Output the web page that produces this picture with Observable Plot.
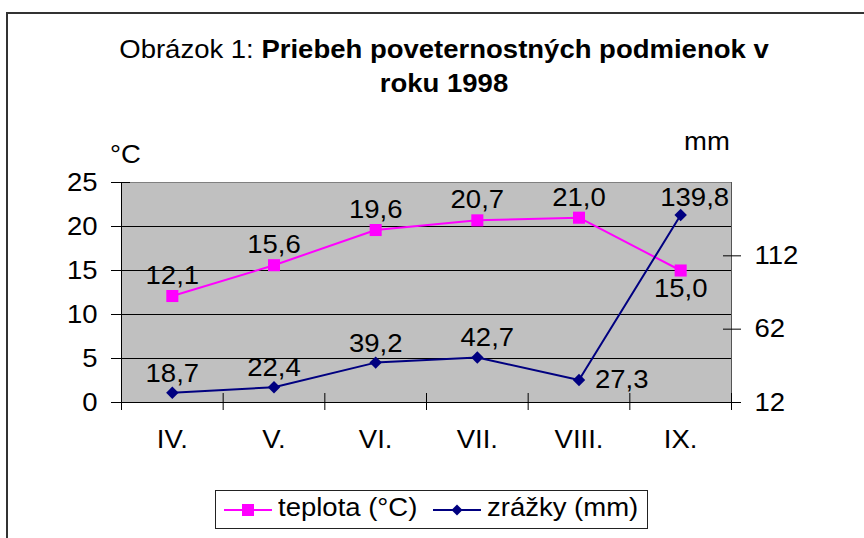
<!DOCTYPE html>
<html>
<head>
<meta charset="utf-8">
<script src="https://cdn.jsdelivr.net/npm/d3@7"></script>
<script src="https://cdn.jsdelivr.net/npm/@observablehq/plot@0.6"></script>
<style>
html, body { margin: 0; padding: 0; background: #fff; overflow: hidden; width: 864px; height: 538px; }
body { position: relative; font-family: "Liberation Sans", Arial, sans-serif; color: #000; }
#frame { position: absolute; left: 6px; top: 12px; width: 900px; height: 600px; border: 2px solid #333; box-sizing: border-box; }
#chart { position: absolute; left: 0; top: 0; }
#title { position: absolute; left: 0; top: 32px; width: 888px; text-align: center; font-size: 25px; line-height: 34px; transform: scaleX(1.1); transform-origin: 444px 0; }
.lab { position: absolute; font-size: 25px; line-height: 25px; white-space: nowrap; transform: scaleX(1.1); transform-origin: 0 0; }
#legend { position: absolute; left: 215px; top: 490px; width: 433px; height: 39px; border: 1px solid #222; box-sizing: border-box; background: #fff; }
#legend svg { position: absolute; top: 0; }
</style>
</head>
<body>
<div id="frame"></div>
<div id="chart"></div>
<div id="title">Obrázok 1: <b>Priebeh poveternostných podmienok v</b><br><b>roku 1998</b></div>
<div class="lab" style="left:110px; top:142px;">°C</div>
<div class="lab" style="left:684px; top:129px;">mm</div>
<div id="legend"></div>
<script>
// ---- data ----
const months = ["IV.", "V.", "VI.", "VII.", "VIII.", "IX."];
const teplota = [12.1, 15.6, 19.6, 20.7, 21.0, 15.0];   // °C
const zrazky = [18.7, 22.4, 39.2, 42.7, 27.3, 139.8];   // mm
const leftTicks = [0, 5, 10, 15, 20, 25];
const mmTicks = [12, 62, 112];
const mmDomain = [12, 162];
const seriesNames = ["teplota (°C)", "zrážky (mm)"];

// ---- styling ----
const SX = 1.1;
const FS = 25;
const cTemp = "#ff00ff";
const cRain = "#000080";

const tMax = leftTicks[leftTicks.length - 1];
const toLeft = v => (v - mmDomain[0]) / (mmDomain[1] - mmDomain[0]) * tMax;
const fromLeft = v => v / tMax * (mmDomain[1] - mmDomain[0]) + mmDomain[0];
const fmt = v => v.toFixed(1).replace(".", ",");

const rows = months.map((m, i) => ({m, x: i + 0.5, temp: teplota[i], rain: zrazky[i]}));

const tempOffsets = {"IX.": {dy: 18}};
const rainOffsets = {"VII.": {dx: 10, dy: -19}, "VIII.": {dx: 16, dy: 0, textAnchor: "start"}, "IX.": {dx: 14, dy: -17}};

function labels(key, yfn, offsets, def) {
  return months.map(m => Plot.text(rows.filter(d => d.m === m), {
    x: "x", y: yfn, text: d => fmt(d[key]), fontSize: FS, fill: "#000",
    ...(offsets[m] || def)
  }));
}

const chart = Plot.plot({
  width: 864,
  height: 538,
  marginTop: 182,
  marginBottom: 136,
  marginLeft: 121,
  marginRight: 133,
  style: {fontFamily: "'Liberation Sans', Arial, sans-serif", fontSize: FS + "px", color: "#000", background: "transparent", overflow: "visible"},
  x: {type: "linear", domain: [0, months.length]},
  y: {domain: [0, tMax]},
  marks: [
    Plot.frame({fill: "#c0c0c0", stroke: "#808080"}),
    Plot.ruleY(leftTicks.filter(t => t > 0 && t < tMax), {stroke: "#000", strokeWidth: 1}),
    Plot.ruleX([months.length], {stroke: "#555"}),
    Plot.ruleX([0], {stroke: "#000"}),
    Plot.ruleY([0], {stroke: "#000"}),
    Plot.axisY({ticks: leftTicks, tickSize: 19, dx: 9, tickPadding: 14, fontSize: FS, label: null, stroke: "#000"}),
    Plot.axisY({anchor: "right", ticks: mmTicks.map(toLeft), tickFormat: d => String(Math.round(fromLeft(d))),
      tickSize: 18, dx: -9, tickPadding: 14, fontSize: FS, label: null}),
    Plot.axisX({ticks: d3.range(months.length + 1), tickFormat: () => "", tickSize: 17, dy: -9, label: null}),
    Plot.axisX({ticks: rows.map(d => d.x), tickFormat: d => months[Math.floor(d)], tickSize: 0, tickPadding: 28, fontSize: FS, label: null}),
    Plot.line(rows, {x: "x", y: "temp", stroke: cTemp, strokeWidth: 2}),
    Plot.line(rows, {x: "x", y: d => toLeft(d.rain), stroke: cRain, strokeWidth: 2}),
    Plot.dot(rows, {x: "x", y: "temp", symbol: "square", r: 6.8, fill: cTemp, stroke: null}),
    Plot.dot(rows, {x: "x", y: d => toLeft(d.rain), symbol: "diamond2", r: 5.6, fill: cRain, stroke: null}),
    ...labels("temp", "temp", tempOffsets, {dy: -20}),
    ...labels("rain", d => toLeft(d.rain), rainOffsets, {dy: -19})
  ]
});

chart.querySelectorAll("text").forEach(t => {
  const tr = t.getAttribute("transform") || "";
  t.setAttribute("transform", tr + ` scale(${SX},1)`);
});
document.getElementById("chart").appendChild(chart);

// ---- legend ----
const legend = document.getElementById("legend");
const sw = (left, color, symbol) => {
  const s = d3.create("svg").attr("width", 60).attr("height", 37).style("left", left + "px");
  s.append("line").attr("x1", 8).attr("x2", 56).attr("y1", 19).attr("y2", 19).attr("stroke", color).attr("stroke-width", 2);
  if (symbol === "square") s.append("rect").attr("x", 26).attr("y", 13).attr("width", 12).attr("height", 12).attr("fill", color);
  else s.append("path").attr("d", "M32,13.5L37.5,19L32,24.5L26.5,19Z").attr("fill", color);
  return s.node();
};
legend.appendChild(sw(0, cTemp, "square"));
legend.appendChild(sw(209, cRain, "diamond"));
const t1 = document.createElement("div"); t1.className = "lab"; t1.style.left = "62px"; t1.style.top = "4px"; t1.textContent = seriesNames[0];
const t2 = document.createElement("div"); t2.className = "lab"; t2.style.left = "271px"; t2.style.top = "4px"; t2.textContent = seriesNames[1];
legend.appendChild(t1); legend.appendChild(t2);
</script>
</body>
</html>
